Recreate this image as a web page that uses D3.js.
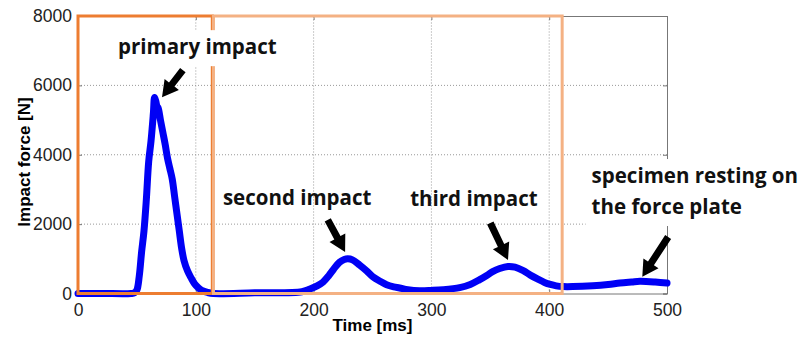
<!DOCTYPE html>
<head>
    <meta charset="utf-8">
    <script src="https://d3js.org/d3.v7.min.js"></script>
</head>

<body style="background: white; margin: 0">
    <div id="my_dataviz"></div>

    <script>
        // force curve: time [ms] and force [N]
        var timeMs = [0, 20, 45, 48, 50, 52, 54, 56, 58, 60, 62, 64, 65, 66, 67, 68, 70, 72, 74, 76, 78, 80,
            82, 84, 86, 88, 90, 93, 96, 99, 102, 105, 110, 115, 150, 190, 197, 203, 208, 213, 217, 222,
            226, 229, 233, 239, 245, 250, 256, 262, 268, 273, 280, 290, 300, 310, 324, 333, 341, 347,
            352, 358, 365, 371, 378, 384, 390, 396, 401, 406, 412, 420, 437, 450, 460, 470, 477, 490, 500];
        var forceN = [0, 0, 0, 20, 100, 500, 1200, 1800, 2700, 3800, 4400, 5200, 5650, 5550, 5400, 5350, 5000, 4650, 4300, 3900, 3600, 3300,
            2800, 2300, 1800, 1300, 950, 650, 450, 280, 170, 90, 30, 0, 20, 50, 130, 220, 330, 520, 700, 900,
            980, 1000, 970, 820, 650, 490, 360, 250, 190, 160, 110, 80, 90, 110, 170, 260, 400, 520,
            630, 720, 780, 760, 660, 530, 420, 320, 260, 220, 200, 200, 225, 260, 300, 330, 350, 330, 300];

        var xTicks = [0, 100, 200, 300, 400, 500];
        var yTicks = [0, 2000, 4000, 6000, 8000];

        // highlighted phases [start ms, end ms]
        var phaseStart = [0, 115];
        var phaseEnd = [114, 411];
        var phaseColor = ["#ED7D31", "#F4B183"];

        // annotations: text lines, anchor (ms, N), arrow tail and tip (ms, N)
        var noteLines = [["primary impact"], ["second impact"], ["third impact"], ["specimen resting on", "the force plate"]];
        var noteX = [34, 123, 282, 436];
        var noteY = [6900, 2550, 2520, 3185];
        var noteBg = [true, false, false, true];
        var arrowFrom = [[89, 6440], [212, 2120], [350, 2030], [501, 1630]];
        var arrowTo = [[71.3, 5660], [226.7, 1200], [365, 970], [479, 480]];

        var width = 801, height = 337;
        var svg = d3.select("#my_dataviz")
            .append("svg")
            .attr("width", width)
            .attr("height", height)
            .style("display", "block");

        var x = d3.scaleLinear().domain([0, 500]).range([78, 667]);
        var y = d3.scaleLinear().domain([0, 8000]).range([293.5, 16]);

        // grid
        svg.append("g")
            .selectAll("line")
            .data(xTicks.slice(1, -1))
            .enter().append("line")
            .attr("x1", d => x(d)).attr("x2", d => x(d))
            .attr("y1", y(0)).attr("y2", y(8000))
            .attr("stroke", "#999").attr("stroke-dasharray", "1,2");
        svg.append("g")
            .selectAll("line")
            .data(yTicks.slice(1, -1))
            .enter().append("line")
            .attr("x1", x(0)).attr("x2", x(500))
            .attr("y1", d => y(d)).attr("y2", d => y(d))
            .attr("stroke", "#999").attr("stroke-dasharray", "1,2");

        // axes (box style like matlab)
        var axisColor = "#777";
        svg.append("g")
            .attr("transform", "translate(0," + y(0) + ")")
            .call(d3.axisBottom(x).tickValues(xTicks).tickSize(-4).tickPadding(10).tickFormat(d3.format("d")))
        svg.append("g")
            .attr("transform", "translate(0," + y(8000) + ")")
            .call(d3.axisTop(x).tickValues(xTicks).tickSize(-4).tickFormat(""))
        svg.append("g")
            .attr("transform", "translate(" + x(0) + ",0)")
            .call(d3.axisLeft(y).tickValues(yTicks).tickSize(-4).tickPadding(6).tickFormat(d3.format("d")))
        svg.append("g")
            .attr("transform", "translate(" + x(500) + ",0)")
            .call(d3.axisRight(y).tickValues(yTicks).tickSize(-4).tickFormat(""))
        svg.selectAll(".domain").attr("stroke", axisColor)
        svg.selectAll(".tick line").attr("stroke", axisColor)
        svg.selectAll(".tick text")
            .style("font-size", "17.5px")
            .style("font-family", "'Liberation Sans', Arial, sans-serif")
            .attr("fill", "#222")

        // axis labels
        svg.append("text")
            .attr("x", (x(0) + x(500)) / 2)
            .attr("y", 331)
            .attr("text-anchor", "middle")
            .text("Time [ms]")
            .style("font-size", "17px")
            .style("font-weight", "bold")
            .style("font-family", "'Liberation Sans', Arial, sans-serif");
        svg.append("text")
            .attr("transform", "translate(30," + 162 + ") rotate(-90)")
            .attr("text-anchor", "middle")
            .text("Impact force [N]")
            .style("font-size", "17px")
            .style("font-weight", "bold")
            .style("font-family", "'Liberation Sans', Arial, sans-serif");

        // force curve
        var points = timeMs.map((t, i) => [t, forceN[i]]);
        var line = d3.line()
            .x(d => x(d[0]))
            .y(d => y(d[1]))
            .curve(d3.curveCatmullRom);
        svg.append("path")
            .datum(points)
            .attr("d", line)
            .attr("fill", "none")
            .attr("stroke", "#0000F5")
            .attr("stroke-width", 7)
            .attr("stroke-linecap", "round")
            .attr("stroke-linejoin", "round");

        // phase rectangles
        svg.append("g")
            .selectAll("rect")
            .data(phaseStart)
            .enter().append("rect")
            .attr("x", d => x(d))
            .attr("y", y(8000))
            .attr("width", (d, i) => x(phaseEnd[i]) - x(d))
            .attr("height", y(0) - y(8000))
            .attr("fill", "none")
            .attr("stroke", (d, i) => phaseColor[i])
            .attr("stroke-width", 3);

        // annotations
        var notes = svg.append("g");
        noteLines.forEach(function (lines, i) {
            var g = notes.append("g");
            var t = g.append("text")
                .attr("x", x(noteX[i]))
                .attr("y", y(noteY[i]))
                .style("font-size", "20.5px")
                .style("font-weight", "bold")
                .style("font-family", "'Open Sans', sans-serif")
                .attr("fill", "#111");
            lines.forEach(function (s, j) {
                t.append("tspan")
                    .attr("x", x(noteX[i]))
                    .attr("dy", j == 0 ? 0 : 31)
                    .text(s);
            });
            if (noteBg[i]) {
                var b = t.node().getBBox();
                g.insert("rect", "text")
                    .attr("x", b.x - 6).attr("y", b.y - 2)
                    .attr("width", b.width + 12).attr("height", b.height + 8)
                    .attr("fill", "white");
            }
        });

        // arrows
        function arrowPath(a, b) {
            var x0 = x(a[0]), y0 = y(a[1]), x1 = x(b[0]), y1 = y(b[1]);
            var dx = x1 - x0, dy = y1 - y0, len = Math.sqrt(dx * dx + dy * dy);
            var ux = dx / len, uy = dy / len, nx = -uy, ny = ux;
            var head = 16, hw = 9, sw = 3.5;
            var bx = x1 - ux * head, by = y1 - uy * head;
            var p = [
                [x0 + nx * sw, y0 + ny * sw], [bx + nx * sw, by + ny * sw], [bx + nx * hw, by + ny * hw],
                [x1, y1],
                [bx - nx * hw, by - ny * hw], [bx - nx * sw, by - ny * sw], [x0 - nx * sw, y0 - ny * sw]
            ];
            return "M" + p.map(q => q[0].toFixed(1) + "," + q[1].toFixed(1)).join("L") + "Z";
        }
        svg.append("g")
            .selectAll("path")
            .data(arrowFrom)
            .enter().append("path")
            .attr("d", (d, i) => arrowPath(d, arrowTo[i]))
            .attr("fill", "black");
    </script>
</body>

</html>
